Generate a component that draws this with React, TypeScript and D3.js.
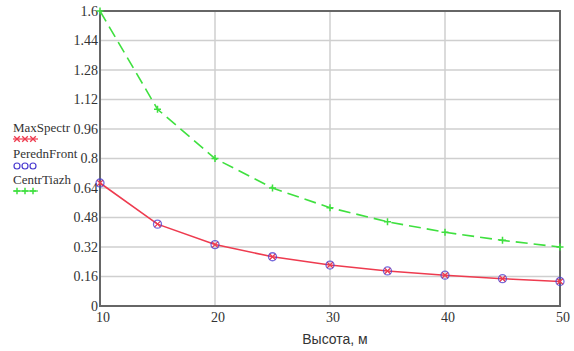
import React from "react"
import * as d3 from "d3"

// heights (m)
const heights = [10, 15, 20, 25, 30, 35, 40, 45, 50]
const maxSpectr = [0.667, 0.444, 0.333, 0.267, 0.222, 0.19, 0.167, 0.148, 0.133]
const perednFront = [0.667, 0.444, 0.333, 0.267, 0.222, 0.19, 0.167, 0.148, 0.133]
const centrTiazh = [1.6, 1.067, 0.8, 0.64, 0.533, 0.457, 0.4, 0.356, 0.32]

const xTicks = [10, 20, 30, 40, 50]
const yTicks = [0, 0.16, 0.32, 0.48, 0.64, 0.8, 0.96, 1.12, 1.28, 1.44, 1.6]
const seriesNames = ["MaxSpectr", "PerednFront", "CentrTiazh"]

const W = 574
const H = 351
const left = 100
const right = 560
const top = 11
const bottom = 306

const RED = "#ee3b4f"
const BLUE = "#4a3bd0"
const GREEN = "#3fe03f"

function XMark({ x, y, s = 3.5, color }: { x: number; y: number; s?: number; color: string }) {
  return (
    <path d={`M${x - s},${y - s}L${x + s},${y + s}M${x - s},${y + s}L${x + s},${y - s}`} stroke={color} strokeWidth={1.3} />
  )
}

function Plus({ x, y, s = 3.5, color }: { x: number; y: number; s?: number; color: string }) {
  return (
    <path d={`M${x - s},${y}L${x + s},${y}M${x},${y - s}L${x},${y + s}`} stroke={color} strokeWidth={1.5} />
  )
}

export default function App() {
  const x = d3.scaleLinear().domain([10, 50]).range([left, right])
  const y = d3.scaleLinear().domain([0, 1.6]).range([bottom, top])

  const line = (vals: number[]) =>
    d3.line<number>().x((_, i) => x(heights[i])).y(d => y(d))(vals) || ""

  const serif = "'Liberation Serif', 'Times New Roman', serif"

  return (
    <svg width={W} height={H} style={{ position: "absolute", left: 0, top: 0, background: "#fff" }}>
      {/* grid */}
      {yTicks.slice(1, -1).map(t => (
        <line key={"gy" + t} x1={left} x2={right} y1={y(t)} y2={y(t)} stroke="#cfcfcf" strokeWidth={1.5} />
      ))}
      {xTicks.slice(1, -1).map(t => (
        <line key={"gx" + t} x1={x(t)} x2={x(t)} y1={top} y2={bottom} stroke="#cfcfcf" strokeWidth={1.5} />
      ))}
      <rect x={left} y={top} width={right - left} height={bottom - top} fill="none" stroke="#666" strokeWidth={2} />

      {/* y ticks */}
      {yTicks.map(t => (
        <text key={"ty" + t} x={left - 2} y={y(t)} dy="0.35em" textAnchor="end" fontFamily={serif} fontSize={14} fill="#333">
          {d3.format("~g")(t)}
        </text>
      ))}
      {/* x ticks */}
      {xTicks.map(t => (
        <text key={"tx" + t} x={x(t) + 3} y={bottom + 16} textAnchor="middle" fontFamily={serif} fontSize={14} fill="#333">
          {t}
        </text>
      ))}
      <text x={335} y={344} textAnchor="middle" fontFamily="'Liberation Sans', Arial, sans-serif" fontSize={14} fill="#333">
        Высота, м
      </text>

      {/* series */}
      <path d={line(centrTiazh)} fill="none" stroke={GREEN} strokeWidth={1.6} strokeDasharray="12,6" />
      {centrTiazh.map((v, i) => (
        <Plus key={"g" + i} x={x(heights[i])} y={y(v)} color={GREEN} />
      ))}
      <path d={line(maxSpectr)} fill="none" stroke={RED} strokeWidth={1.6} />
      {maxSpectr.map((v, i) => (
        <XMark key={"r" + i} x={x(heights[i])} y={y(v)} s={3} color={RED} />
      ))}
      {perednFront.map((v, i) => (
        <circle key={"b" + i} cx={x(heights[i])} cy={y(v)} r={4} fill="none" stroke={BLUE} strokeOpacity={0.75} strokeWidth={1.3} />
      ))}

      {/* legend */}
      <g fontFamily={serif} fontSize={13} fill="#333">
        <text x={13} y={132}>{seriesNames[0]}</text>
        {[0, 1, 2].map(i => (
          <XMark key={"lr" + i} x={17 + i * 8} y={139} s={2.8} color={RED} />
        ))}
        <line x1={13} x2={38} y1={139} y2={139} stroke={RED} strokeWidth={1.2} />
        <text x={13} y={158}>{seriesNames[1]}</text>
        {[0, 1, 2].map(i => (
          <circle key={"lb" + i} cx={17 + i * 8} cy={166} r={3} fill="none" stroke={BLUE} strokeWidth={1.2} />
        ))}
        <text x={13} y={184}>{seriesNames[2]}</text>
        {[0, 1, 2].map(i => (
          <Plus key={"lg" + i} x={17 + i * 8} y={191} s={3.2} color={GREEN} />
        ))}
        <line x1={13} x2={38} y1={191} y2={191} stroke={GREEN} strokeWidth={1.2} />
      </g>
    </svg>
  )
}
